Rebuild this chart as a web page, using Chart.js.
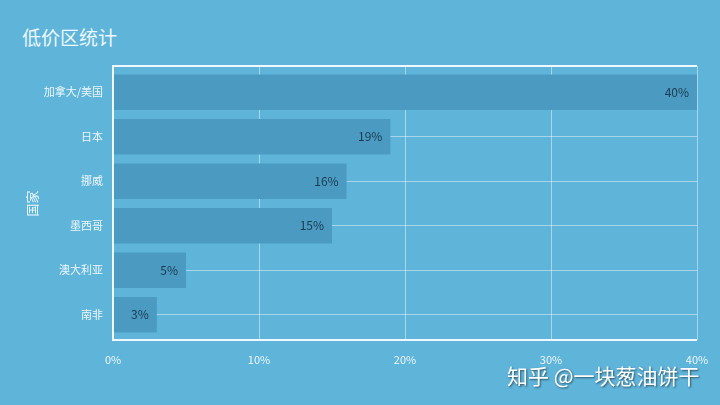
<!DOCTYPE html>
<html>
<head>
<meta charset="utf-8">
<script src="https://cdn.jsdelivr.net/npm/chart.js@4/dist/chart.umd.min.js"></script>
<style>
  html, body { margin: 0; padding: 0; }
  body { width: 720px; height: 405px; background: #5fb4da; position: relative; overflow: hidden;
         font-family: "Noto Sans CJK SC", "Noto Sans", sans-serif; }
  #title { position: absolute; left: 22px; top: 24px; font-size: 19px; color: #eef8fc; line-height: 26px; }
  #mark { position: absolute; left: 507px; top: 361px; font-size: 21px; color: #ffffff; line-height: 28px;
          text-shadow: 1px 1px 2px rgba(0,0,0,0.55); }
  #wrap { position: absolute; left: 0; top: 0; width: 720px; height: 405px; }
</style>
</head>
<body>
<div id="title">低价区统计</div>
<div id="wrap"><canvas id="lowPriceChart"></canvas></div>
<div id="mark">知乎 @一块葱油饼干</div>
<script>
document.addEventListener('DOMContentLoaded', function() {

    const canvasElement = document.getElementById('lowPriceChart');
    if (!canvasElement) return;
    const ctx = canvasElement.getContext('2d');

    // Chart data
    const countries = ['加拿大/美国', '日本', '挪威', '墨西哥', '澳大利亚', '南非'];
    const shares = [40, 19, 16, 15, 5, 3];
    const xTicks = [0, 10, 20, 30, 40];

    const fontFamily = '"Noto Sans CJK SC", "Noto Sans", sans-serif';
    const gridColor = 'rgba(255,255,255,0.45)';

    // vertical grid lines, running a little past the plot to meet the frame
    const xGrid = {
        id: 'xGrid',
        beforeDatasetsDraw(chart) {
            const a = chart.chartArea;
            const c = chart.ctx;
            const xs = chart.scales.x;
            c.save();
            c.strokeStyle = gridColor;
            c.lineWidth = 1;
            xTicks.forEach(function(v) {
                const px = Math.round(xs.getPixelForValue(v)) + 0.5;
                c.beginPath();
                c.moveTo(px, a.top - 4);
                c.lineTo(px, a.bottom + 3);
                c.stroke();
            });
            c.restore();
        }
    };

    // value labels at the end of each bar
    const valueLabels = {
        id: 'valueLabels',
        afterDatasetsDraw(chart) {
            const c = chart.ctx;
            const meta = chart.getDatasetMeta(0);
            c.save();
            c.font = '12px ' + fontFamily;
            c.fillStyle = '#1c3a4e';
            c.textAlign = 'right';
            c.textBaseline = 'middle';
            meta.data.forEach(function(bar, i) {
                c.fillText(shares[i] + '%', bar.x - 8, bar.y);
            });
            c.restore();
        }
    };

    // white frame on top, left and bottom of the plot
    const frame = {
        id: 'frame',
        afterDatasetsDraw(chart) {
            const a = chart.chartArea;
            const c = chart.ctx;
            c.save();
            c.strokeStyle = 'rgba(255,255,255,0.9)';
            c.lineWidth = 2;
            c.beginPath();
            c.moveTo(a.right, a.top - 4);
            c.lineTo(a.left, a.top - 4);
            c.lineTo(a.left, a.bottom + 3);
            c.lineTo(a.right, a.bottom + 3);
            c.stroke();
            c.restore();
        }
    };

    const config = {
        type: 'bar',
        data: {
            labels: countries,
            datasets: [{
                data: shares,
                backgroundColor: '#4a9ac2',
                borderWidth: 0,
                barPercentage: 0.8,
                categoryPercentage: 1.0
            }]
        },
        options: {
            indexAxis: 'y',
            responsive: true,
            maintainAspectRatio: false,
            animation: false,
            layout: { padding: { left: 24, top: 70, right: 23, bottom: 0 } },
            plugins: {
                legend: { display: false },
                tooltip: { enabled: false }
            },
            scales: {
                x: {
                    min: 0,
                    max: 40,
                    afterBuildTicks: function(scale) {
                        scale.ticks = xTicks.map(v => ({ value: v }));
                    },
                    afterFit: function(scale) { scale.height = 68; },
                    ticks: {
                        color: '#eef8fc',
                        font: { size: 11, family: fontFamily },
                        padding: 8,
                        callback: v => v + '%'
                    },
                    grid: { display: false },
                    border: { display: false }
                },
                y: {
                    afterFit: function(scale) { scale.width = 89; },
                    title: {
                        display: true,
                        text: '国家',
                        color: '#eef8fc',
                        font: { size: 13, family: fontFamily },
                        padding: 0
                    },
                    ticks: {
                        color: '#eef8fc',
                        font: { size: 11, family: fontFamily },
                        padding: 10
                    },
                    grid: { color: gridColor, offset: false, drawTicks: false },
                    border: { display: false }
                }
            }
        },
        plugins: [xGrid, valueLabels, frame]
    };

    // Render chart
    new Chart(ctx, config);

});
</script>
</body>
</html>
